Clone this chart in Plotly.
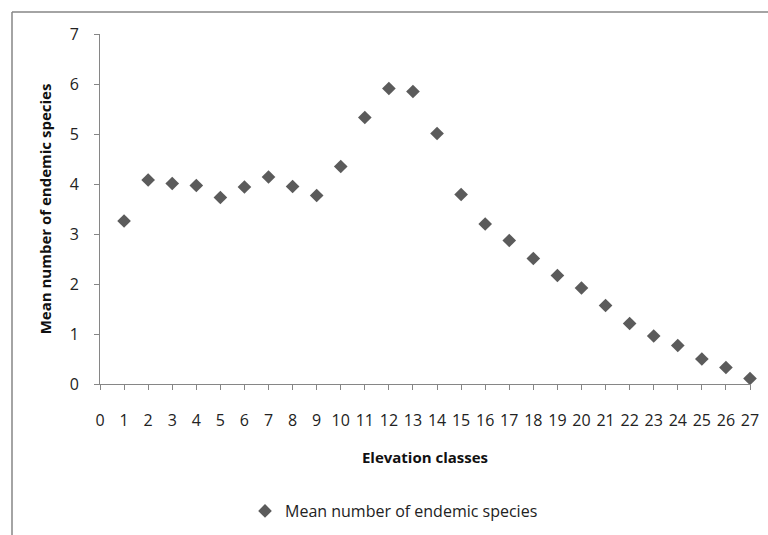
import plotly.graph_objects as go

# Elevation classes and mean number of endemic species per class
elevation_class = list(range(1, 28))
mean_endemic = [3.26, 4.08, 4.01, 3.97, 3.73, 3.94, 4.14, 3.95, 3.77, 4.35,
                5.33, 5.91, 5.85, 5.01, 3.79, 3.20, 2.87, 2.51, 2.17, 1.92,
                1.57, 1.21, 0.96, 0.77, 0.50, 0.33, 0.11]

series_name = "Mean number of endemic species"
x_title = "Elevation classes"
y_title = "Mean number of endemic species"

FONT = "Open Sans"
AXIS_GREY = "#868686"
MARK_GREY = "#5b5b5b"

W, H = 768, 535
L, R, T, B = 100, 18, 34, 151
pw, ph = W - L - R, H - T - B

def px_to_paper_x(px):
    return (px - L) / pw

def px_to_paper_y(py):
    return (H - B - py) / ph

fig = go.Figure()
fig.add_trace(go.Scatter(
    x=elevation_class, y=mean_endemic, mode="markers", name=series_name,
    marker=dict(symbol="diamond", size=10.5, color=MARK_GREY),
    cliponaxis=False,
))

axis_common = dict(
    showgrid=False, zeroline=False, showline=True, linecolor=AXIS_GREY,
    linewidth=1, ticks="outside", ticklen=5, tickcolor=AXIS_GREY,
    tickfont=dict(family=FONT, size=16, color="#222222"),
)

fig.update_layout(
    width=W, height=H,
    margin=dict(l=L, r=R, t=T, b=B, autoexpand=False),
    paper_bgcolor="white", plot_bgcolor="white",
    xaxis=dict(range=[0, 27], dtick=1, tick0=0, ticklabelstandoff=17,
               title=dict(text=x_title, standoff=22,
                          font=dict(family=FONT, size=15, color="#111111", weight="bold")),
               **axis_common),
    yaxis=dict(range=[0, 7], dtick=1, tick0=0, ticklabelstandoff=12,
               title=dict(text=y_title, standoff=14,
                          font=dict(family=FONT, size=15, color="#111111", weight="bold")),
               **axis_common),
    showlegend=True,
    legend=dict(x=px_to_paper_x(394), y=px_to_paper_y(511), xanchor="center", yanchor="middle",
                font=dict(family=FONT, size=16, color="#222222"),
                itemwidth=30, bgcolor="rgba(0,0,0,0)"),
    shapes=[
        # outer chart-area frame (left and top edges fall inside the view)
        dict(type="line", xref="paper", yref="paper",
             x0=px_to_paper_x(12), x1=px_to_paper_x(12),
             y0=px_to_paper_y(12), y1=px_to_paper_y(560),
             line=dict(color=AXIS_GREY, width=1.5)),
        dict(type="line", xref="paper", yref="paper",
             x0=px_to_paper_x(12), x1=px_to_paper_x(800),
             y0=px_to_paper_y(12), y1=px_to_paper_y(12),
             line=dict(color=AXIS_GREY, width=1.5)),
    ],
)

fig.write_html("out.html")
